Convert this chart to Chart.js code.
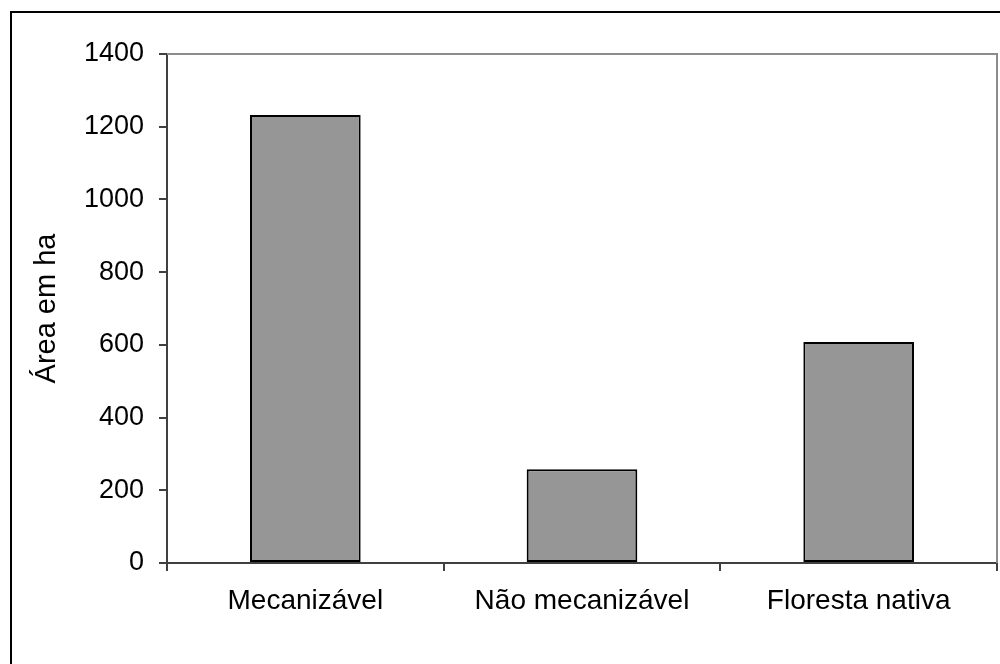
<!DOCTYPE html>
<html>
<head>
<meta charset="utf-8">
<script src="https://cdn.jsdelivr.net/npm/chart.js@4/dist/chart.umd.min.js"></script>
<style>
  html, body { margin: 0; padding: 0; background: #fff; }
  #wrap { width: 1000px; height: 664px; }
</style>
</head>
<body>
<div id="wrap"><canvas id="c" width="1000" height="664"></canvas></div>
<script>
const categories = ['Mecanizável', 'Não mecanizável', 'Floresta nativa'];
const areaHa = [1232, 258, 608];
const yTicks = [0, 200, 400, 600, 800, 1000, 1200, 1400];

const FONT = "'Liberation Sans', Arial, sans-serif";

// outer frame and the grey top/right edges of the plot area
const framePlugin = {
  id: 'frame',
  beforeDraw(chart) {
    const ctx = chart.ctx;
    ctx.save();
    ctx.fillStyle = '#fff';
    ctx.fillRect(0, 0, chart.width, chart.height);
    ctx.strokeStyle = '#000';
    ctx.lineWidth = 2;
    ctx.beginPath();
    ctx.moveTo(chart.width + 5, 12);
    ctx.lineTo(11, 12);
    ctx.lineTo(11, chart.height + 5);
    ctx.stroke();
    ctx.restore();
  },
  afterDatasetsDraw(chart) {
    const a = chart.chartArea;
    const ctx = chart.ctx;
    ctx.save();
    ctx.strokeStyle = '#8c8c8c';
    ctx.lineWidth = 2;
    ctx.beginPath();
    ctx.moveTo(a.left, a.top);
    ctx.lineTo(a.right, a.top);
    ctx.lineTo(a.right, a.bottom);
    ctx.stroke();
    ctx.restore();
  }
};

new Chart(document.getElementById('c'), {
  type: 'bar',
  data: {
    labels: categories,
    datasets: [{
      data: areaHa,
      backgroundColor: '#969696',
      borderColor: '#000',
      borderWidth: 2,
      borderSkipped: false,
      categoryPercentage: 1,
      barPercentage: 0.4
    }]
  },
  options: {
    responsive: false,
    animation: false,
    devicePixelRatio: 1,
    layout: { padding: { top: 54, right: 3, left: 0, bottom: 0 } },
    plugins: {
      legend: { display: false },
      tooltip: { enabled: false },
      title: { display: false }
    },
    scales: {
      x: {
        offset: true,
        grid: {
          offset: true,
          drawOnChartArea: false,
          drawTicks: true,
          tickLength: 8,
          color: '#404040',
          lineWidth: 2
        },
        border: { color: '#404040', width: 2 },
        ticks: {
          color: '#000',
          font: { family: FONT, size: 28 },
          padding: 13,
          maxRotation: 0
        },
        afterFit(scale) { scale.height = 101; }
      },
      y: {
        min: 0,
        max: 1400,
        afterBuildTicks(scale) { scale.ticks = yTicks.map(v => ({ value: v })); },
        grid: {
          drawOnChartArea: false,
          drawTicks: true,
          tickLength: 8,
          color: '#404040',
          lineWidth: 2
        },
        border: { color: '#404040', width: 2 },
        ticks: {
          color: '#000',
          font: { family: FONT, size: 27 },
          padding: 15,
          callback: v => String(v)
        },
        title: {
          display: true,
          text: 'Área em ha',
          color: '#000',
          font: { family: FONT, size: 29 },
          padding: { top: 30, bottom: 0 }
        },
        afterFit(scale) { scale.width = 167; }
      }
    }
  },
  plugins: [framePlugin]
});
</script>
</body>
</html>
